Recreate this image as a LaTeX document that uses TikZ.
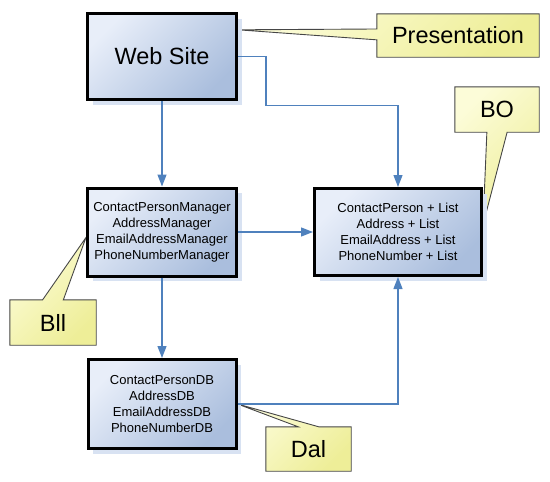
\documentclass[tikz,border=0pt]{standalone}
\usepackage{fontspec}
\setmainfont{Liberation Sans}
\usetikzlibrary{arrows.meta,shadows,calc,backgrounds}

\definecolor{boxlight}{RGB}{232,238,249}
\definecolor{boxdark}{RGB}{170,190,221}
\definecolor{boxshadow}{RGB}{216,226,242}
\definecolor{notelight}{RGB}{252,252,216}
\definecolor{notedark}{RGB}{238,238,152}
\definecolor{notedraw}{RGB}{70,70,70}
\definecolor{linkblue}{RGB}{79,129,189}

\tikzstyle{block}=[rectangle,
    line width=3pt,
    draw=black,
    top color=boxlight,
    bottom color=boxdark,
    shading angle=45,
    drop shadow={shadow xshift=5pt,shadow yshift=-5pt,fill=boxshadow,opacity=1},
    align=center,
    inner sep=0pt,
    font=\fontsize{13}{16}\selectfont]
\tikzstyle{note}=[rectangle,
    inner sep=0pt,
    font=\fontsize{23.5}{28}\selectfont]
\tikzstyle{notefill}=[draw=notedraw,
    line width=0.9pt,
    line join=miter,
    top color=notelight,
    bottom color=notedark,
    shading angle=45]
\tikzstyle{link}=[draw=linkblue,
    line width=1.3pt,
    -{Triangle[length=12pt,width=9pt]}]

\begin{document}
\begin{tikzpicture}[x=1pt,y=-1pt]
    \useasboundingbox (0,0) rectangle (550,482);

    % layers
    \node (web) [block, minimum width=149, minimum height=86,
        font=\fontsize{23.5}{28}\selectfont] at (162,56.5) {Web Site};
    \node (mgr) [block, minimum width=149, minimum height=88] at (162,232)
        {ContactPersonManager\\AddressManager\\EmailAddressManager\\PhoneNumberManager};
    \node (bo) [block, minimum width=167, minimum height=87] at (398,232)
        {ContactPerson + List\\Address + List\\EmailAddress + List\\PhoneNumber + List};
    \node (db) [block, minimum width=148, minimum height=89] at (162,404)
        {ContactPersonDB\\AddressDB\\EmailAddressDB\\PhoneNumberDB};

    % notes
    \node (pres) [note, minimum width=162, minimum height=43] at (458,35.5) {Presentation};
    \node (bonote) [note, minimum width=84, minimum height=45] at (497,109.5) {BO};
    \node (bll) [note, minimum width=86, minimum height=45] at (53,322.5) {Bll};
    \node (dal) [note, minimum width=85, minimum height=44] at (308.5,449) {Dal};

    \begin{scope}[on background layer]
        \shadedraw [notefill] (pres.north west) -- (pres.north east) -- (pres.south east)
            -- (pres.south west) -- ($(pres.north west)!0.6!(pres.south west)$)
            -- ($(web.north east)!0.2!(web.south east)$)
            -- ($(pres.north west)!0.35!(pres.south west)$) -- cycle;
        \shadedraw [notefill] (bonote.north west) -- (bonote.north east) -- (bonote.south east)
            -- ($(bonote.south west)!0.62!(bonote.south east)$)
            -- ($(bo.north east)!0.42!(bo.south east)$)
            -- ($(bonote.south west)!0.38!(bonote.south east)$) -- (bonote.south west) -- cycle;
        \shadedraw [notefill] (bll.north west) -- ($(bll.north west)!0.38!(bll.north east)$)
            -- ($(mgr.north west)!0.56!(mgr.south west)$)
            -- ($(bll.north west)!0.62!(bll.north east)$) -- (bll.north east)
            -- (bll.south east) -- (bll.south west) -- cycle;
        \shadedraw [notefill] (dal.north west) -- ($(dal.north west)!0.38!(dal.north east)$)
            -- (db.east)
            -- ($(dal.north west)!0.62!(dal.north east)$) -- (dal.north east)
            -- (dal.south east) -- (dal.south west) -- cycle;
    \end{scope}

    % connectors
    \draw [link] (web.south) -- (mgr.north);
    \draw [link] (web.east) -| ++(28,49) -| (bo.north);
    \draw [link] (mgr.east) -- (bo.west);
    \draw [link] (mgr.south) -- (db.north);
    \draw [link] (db.east) -| (bo.south);
\end{tikzpicture}
\end{document}
